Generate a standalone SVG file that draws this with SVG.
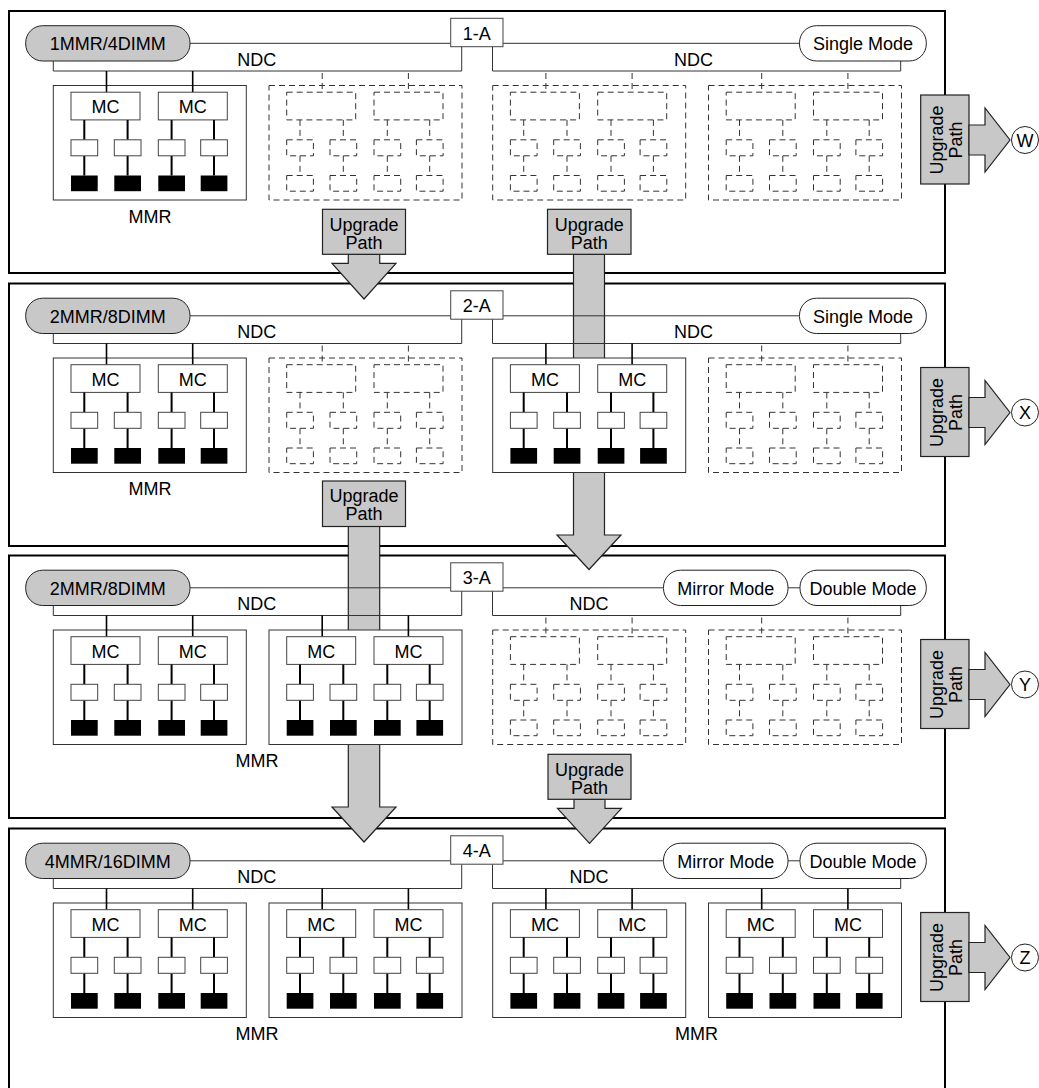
<svg xmlns="http://www.w3.org/2000/svg" width="1039" height="1088" viewBox="0 0 1039 1088">
<style>
.frame{fill:#fff;stroke:#000;stroke-width:2}
.thin{fill:none;stroke:#333;stroke-width:1}
.pillg{fill:#c8c8c8;stroke:#222;stroke-width:1}
.pillw{fill:#fff;stroke:#222;stroke-width:1}
.box{fill:#fff;stroke:#444;stroke-width:1}
.mmr{fill:#fff;stroke:#333;stroke-width:1}
.wire{stroke:#000;stroke-width:2}
.feed{stroke:#000;stroke-width:1.6}
.dimm{fill:#000}
.dash{fill:none;stroke:#333;stroke-width:1;stroke-dasharray:6 4}
.arrow{fill:#c8c8c8;stroke:#222;stroke-width:1.2}
text{font-family:"Liberation Sans",Arial,Helvetica,sans-serif;font-size:18px;fill:#000}
.c{text-anchor:middle}
</style>
<defs>
<g id="slot-solid">
<rect class="mmr" x="0" y="0" width="193" height="114.5"/>
<line class="feed" x1="53.2" y1="-14.5" x2="53.2" y2="6.7"/>
<line class="feed" x1="139.4" y1="-14.5" x2="139.4" y2="6.7"/>
<rect class="box" x="17.7" y="6.7" width="69" height="27.7"/>
<rect class="box" x="105" y="6.7" width="69" height="27.7"/>
<path class="wire" d="M31,34.4V54.3M74.3,34.4V54.3M118.3,34.4V54.3M160.7,34.4V54.3M31,70.3V90M74.3,70.3V90M118.3,70.3V90M160.7,70.3V90"/>
<rect class="box" x="17.7" y="54.3" width="26.7" height="16"/>
<rect class="box" x="61" y="54.3" width="26.7" height="16"/>
<rect class="box" x="105" y="54.3" width="26.7" height="16"/>
<rect class="box" x="147.4" y="54.3" width="26.7" height="16"/>
<rect class="dimm" x="17.7" y="90" width="26.7" height="15.7"/>
<rect class="dimm" x="61" y="90" width="26.7" height="15.7"/>
<rect class="dimm" x="105" y="90" width="26.7" height="15.7"/>
<rect class="dimm" x="147.4" y="90" width="26.7" height="15.7"/>
</g>
<g id="slot-dashed">
<rect class="dash" x="0" y="0" width="193" height="114.5"/>
<path class="dash" d="M53.2,-12.5V6.7M139.4,-12.5V6.7"/>
<rect class="dash" x="17.7" y="6.7" width="69" height="27.7"/>
<rect class="dash" x="105" y="6.7" width="69" height="27.7"/>
<path class="dash" d="M31,34.4V54.3M74.3,34.4V54.3M118.3,34.4V54.3M160.7,34.4V54.3M31,70.3V90M74.3,70.3V90M118.3,70.3V90M160.7,70.3V90"/>
<rect class="dash" x="17.7" y="54.3" width="26.7" height="16"/>
<rect class="dash" x="61" y="54.3" width="26.7" height="16"/>
<rect class="dash" x="105" y="54.3" width="26.7" height="16"/>
<rect class="dash" x="147.4" y="54.3" width="26.7" height="16"/>
<rect class="dash" x="17.7" y="90" width="26.7" height="15.7"/>
<rect class="dash" x="61" y="90" width="26.7" height="15.7"/>
<rect class="dash" x="105" y="90" width="26.7" height="15.7"/>
<rect class="dash" x="147.4" y="90" width="26.7" height="15.7"/>
</g>
<g id="side-arrow">
<rect class="arrow" x="920.7" y="84" width="48.3" height="89"/>
<polygon class="arrow" points="969,114 985,114 985,97 1010,129 985,161 985,144 969,144"/>
</g>
</defs>

<g id="frames">
<rect id="panel-1" class="frame" x="9" y="11" width="936" height="262"/>
<rect id="panel-2" class="frame" x="9" y="283.5" width="936" height="262.5"/>
<rect id="panel-3" class="frame" x="9" y="555.5" width="936" height="262.5"/>
<rect id="panel-4" class="frame" x="9" y="828.5" width="936" height="280"/>
</g>

<g id="connectors">
<g id="upgrade-1-2">
<polygon class="arrow" points="348.3,254.3 348.3,263.3 332,263.3 364,299 396,263.3 379.7,263.3 379.7,254.3"/>
<rect class="arrow" x="322.5" y="209.3" width="83" height="45"/>
<text class="c" x="364" y="230.5">Upgrade</text>
<text class="c" x="364" y="248.5">Path</text>
</g>
<g id="upgrade-1-3">
<polygon class="arrow" points="573.5,254.3 573.5,535 557,535 589,569.5 621,535 604.5,535 604.5,254.3"/>
<rect class="arrow" x="547.5" y="209.3" width="83.5" height="45"/>
<text class="c" x="589.2" y="230.5">Upgrade</text>
<text class="c" x="589.2" y="248.5">Path</text>
</g>
<g id="upgrade-2-4">
<polygon class="arrow" points="348.3,526.5 348.3,807 332,807 364,842 396,807 379.7,807 379.7,526.5"/>
<rect class="arrow" x="322.5" y="481" width="83" height="45.5"/>
<text class="c" x="364" y="502.2">Upgrade</text>
<text class="c" x="364" y="520.2">Path</text>
</g>
<g id="upgrade-3-4">
<polygon class="arrow" points="574,799.3 574,808.3 557.5,808.3 589.5,843.3 621.5,808.3 605,808.3 605,799.3"/>
<rect class="arrow" x="548" y="754.3" width="83" height="45"/>
<text class="c" x="589.5" y="775.5">Upgrade</text>
<text class="c" x="589.5" y="793.5">Path</text>
</g>
<g id="upgrade-W" transform="translate(0,11)">
<use href="#side-arrow"/>
<text class="c" transform="translate(943,129) rotate(-90)">Upgrade</text>
<text class="c" transform="translate(962,129) rotate(-90)">Path</text>
</g>
<g id="upgrade-X" transform="translate(0,283.5)">
<use href="#side-arrow"/>
<text class="c" transform="translate(943,129) rotate(-90)">Upgrade</text>
<text class="c" transform="translate(962,129) rotate(-90)">Path</text>
</g>
<g id="upgrade-Y" transform="translate(0,555.5)">
<use href="#side-arrow"/>
<text class="c" transform="translate(943,129) rotate(-90)">Upgrade</text>
<text class="c" transform="translate(962,129) rotate(-90)">Path</text>
</g>
<g id="upgrade-Z" transform="translate(0,828.5)">
<use href="#side-arrow"/>
<text class="c" transform="translate(943,129) rotate(-90)">Upgrade</text>
<text class="c" transform="translate(962,129) rotate(-90)">Path</text>
</g>
</g>

<g id="node-W"><circle class="pillw" cx="1025" cy="140" r="13.5"/><text class="c" x="1025" y="146.5">W</text></g>
<g id="node-X"><circle class="pillw" cx="1025" cy="412.5" r="13.5"/><text class="c" x="1025" y="419">X</text></g>
<g id="node-Y"><circle class="pillw" cx="1025" cy="684.5" r="13.5"/><text class="c" x="1025" y="691">Y</text></g>
<g id="node-Z"><circle class="pillw" cx="1025" cy="957.5" r="13.5"/><text class="c" x="1025" y="964">Z</text></g>

<!-- Configuration 1 -->
<g id="config-1" transform="translate(0,11)">
<path class="thin" d="M190,32.3H450.7M503,32.3H799.5"/>
<path class="thin" d="M53.3,50V60H461.7V35.7M492.5,35.7V60H900.7V50"/>
<g id="c1-label"><rect class="pillg" x="25.7" y="14.7" width="164.3" height="35.3" rx="17"/><text class="c" x="107.8" y="39">1MMR/4DIMM</text></g>
<g id="c1-id"><rect class="box" x="450.7" y="7.3" width="52.3" height="28.4"/><text class="c" x="476.8" y="28.5">1-A</text></g>
<g id="c1-mode"><rect class="pillw" x="799.5" y="14.7" width="126.8" height="35.3" rx="17"/><text class="c" x="863" y="39">Single Mode</text></g>
<text class="c" x="256.7" y="54.7">NDC</text>
<text class="c" x="693.5" y="54.7">NDC</text>
<g id="c1-mmr1" transform="translate(53.3,74.5)"><use href="#slot-solid"/><text class="c" x="52.2" y="27.8">MC</text><text class="c" x="139.5" y="27.8">MC</text></g>
<g id="c1-slot2" transform="translate(269,74.5)"><use href="#slot-dashed"/></g>
<g id="c1-slot3" transform="translate(492.7,74.5)"><use href="#slot-dashed"/></g>
<g id="c1-slot4" transform="translate(708.5,74.5)"><use href="#slot-dashed"/></g>
<text class="c" x="150" y="211.5">MMR</text>
</g>

<!-- Configuration 2 -->
<g id="config-2" transform="translate(0,283.5)">
<path class="thin" d="M190,32.3H450.7M503,32.3H799.5"/>
<path class="thin" d="M53.3,50V60H461.7V35.7M492.5,35.7V60H900.7V50"/>
<g id="c2-label"><rect class="pillg" x="25.7" y="14.7" width="164.3" height="35.3" rx="17"/><text class="c" x="107.8" y="39">2MMR/8DIMM</text></g>
<g id="c2-id"><rect class="box" x="450.7" y="7.3" width="52.3" height="28.4"/><text class="c" x="476.8" y="28.5">2-A</text></g>
<g id="c2-mode"><rect class="pillw" x="799.5" y="14.7" width="126.8" height="35.3" rx="17"/><text class="c" x="863" y="39">Single Mode</text></g>
<text class="c" x="256.7" y="54.7">NDC</text>
<text class="c" x="693.5" y="54.7">NDC</text>
<g id="c2-mmr1" transform="translate(53.3,74.5)"><use href="#slot-solid"/><text class="c" x="52.2" y="27.8">MC</text><text class="c" x="139.5" y="27.8">MC</text></g>
<g id="c2-slot2" transform="translate(269,74.5)"><use href="#slot-dashed"/></g>
<g id="c2-mmr3" transform="translate(492.7,74.5)"><use href="#slot-solid"/><text class="c" x="52.2" y="27.8">MC</text><text class="c" x="139.5" y="27.8">MC</text></g>
<g id="c2-slot4" transform="translate(708.5,74.5)"><use href="#slot-dashed"/></g>
<text class="c" x="150" y="211.5">MMR</text>
</g>

<!-- Configuration 3 -->
<g id="config-3" transform="translate(0,555.5)">
<path class="thin" d="M190,32.3H450.7M503,32.3H663.5M788,32.3H800"/>
<path class="thin" d="M53.3,50V60H461.7V35.7M492.5,35.7V60H900.7V50"/>
<g id="c3-label"><rect class="pillg" x="25.7" y="14.7" width="164.3" height="35.3" rx="17"/><text class="c" x="107.8" y="39">2MMR/8DIMM</text></g>
<g id="c3-id"><rect class="box" x="450.7" y="7.3" width="52.3" height="28.4"/><text class="c" x="476.8" y="28.5">3-A</text></g>
<g id="c3-mirror"><rect class="pillw" x="663.5" y="14.7" width="124.5" height="35.3" rx="17"/><text class="c" x="725.8" y="39">Mirror Mode</text></g>
<g id="c3-double"><rect class="pillw" x="800" y="14.7" width="126.3" height="35.3" rx="17"/><text class="c" x="863" y="39">Double Mode</text></g>
<text class="c" x="256.7" y="54.7">NDC</text>
<text class="c" x="589" y="54.7">NDC</text>
<g id="c3-mmr1" transform="translate(53.3,74.5)"><use href="#slot-solid"/><text class="c" x="52.2" y="27.8">MC</text><text class="c" x="139.5" y="27.8">MC</text></g>
<g id="c3-mmr2" transform="translate(269,74.5)"><use href="#slot-solid"/><text class="c" x="52.2" y="27.8">MC</text><text class="c" x="139.5" y="27.8">MC</text></g>
<g id="c3-slot3" transform="translate(492.7,74.5)"><use href="#slot-dashed"/></g>
<g id="c3-slot4" transform="translate(708.5,74.5)"><use href="#slot-dashed"/></g>
<text class="c" x="257" y="211.5">MMR</text>
</g>

<!-- Configuration 4 -->
<g id="config-4" transform="translate(0,828.5)">
<path class="thin" d="M190,32.3H450.7M503,32.3H663.5M788,32.3H800"/>
<path class="thin" d="M53.3,50V60H461.7V35.7M492.5,35.7V60H900.7V50"/>
<g id="c4-label"><rect class="pillg" x="25.7" y="14.7" width="164.3" height="35.3" rx="17"/><text class="c" x="107.8" y="39">4MMR/16DIMM</text></g>
<g id="c4-id"><rect class="box" x="450.7" y="7.3" width="52.3" height="28.4"/><text class="c" x="476.8" y="28.5">4-A</text></g>
<g id="c4-mirror"><rect class="pillw" x="663.5" y="14.7" width="124.5" height="35.3" rx="17"/><text class="c" x="725.8" y="39">Mirror Mode</text></g>
<g id="c4-double"><rect class="pillw" x="800" y="14.7" width="126.3" height="35.3" rx="17"/><text class="c" x="863" y="39">Double Mode</text></g>
<text class="c" x="256.7" y="54.7">NDC</text>
<text class="c" x="589" y="54.7">NDC</text>
<g id="c4-mmr1" transform="translate(53.3,74.5)"><use href="#slot-solid"/><text class="c" x="52.2" y="27.8">MC</text><text class="c" x="139.5" y="27.8">MC</text></g>
<g id="c4-mmr2" transform="translate(269,74.5)"><use href="#slot-solid"/><text class="c" x="52.2" y="27.8">MC</text><text class="c" x="139.5" y="27.8">MC</text></g>
<g id="c4-mmr3" transform="translate(492.7,74.5)"><use href="#slot-solid"/><text class="c" x="52.2" y="27.8">MC</text><text class="c" x="139.5" y="27.8">MC</text></g>
<g id="c4-mmr4" transform="translate(708.5,74.5)"><use href="#slot-solid"/><text class="c" x="52.2" y="27.8">MC</text><text class="c" x="139.5" y="27.8">MC</text></g>
<text class="c" x="257" y="211.5">MMR</text>
<text class="c" x="696.5" y="211.5">MMR</text>
</g>
</svg>
